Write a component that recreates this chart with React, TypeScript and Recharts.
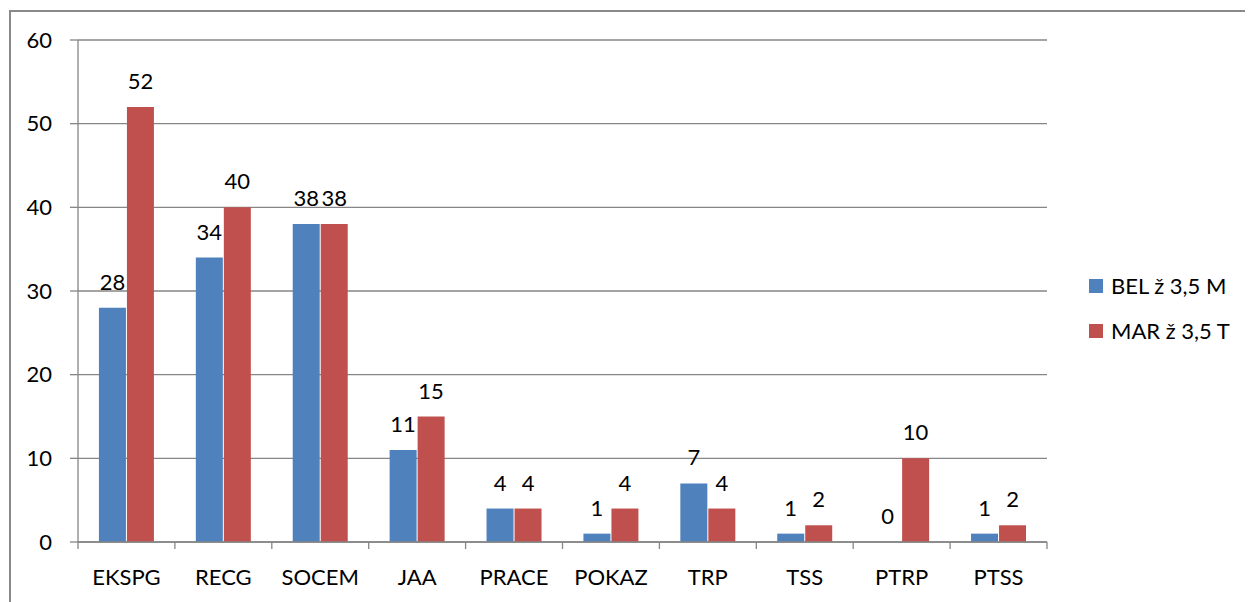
import React from "react";
import { BarChart, Bar, XAxis, YAxis, CartesianGrid, Legend, LabelList } from "recharts";

const categories = ["EKSPG", "RECG", "SOCEM", "JAA", "PRACE", "POKAZ", "TRP", "TSS", "PTRP", "PTSS"];
const belValues = [28, 34, 38, 11, 4, 1, 7, 1, 0, 1];
const marValues = [52, 40, 38, 15, 4, 4, 4, 2, 10, 2];
const yTicks = [0, 10, 20, 30, 40, 50, 60];

const data = categories.map((name, i) => ({ name, bel: belValues[i], mar: marValues[i] }));

const FONT = "Lato, 'Open Sans', sans-serif";
const GRID = "#868686";
const BLUE = "#4f81bd";
const RED = "#c0504d";

const W = 1245;
const H = 594;
const M = { top: 32, right: 206, bottom: 0, left: 0 };
const Y_W = 70;
const BAND = (W - M.right - M.left - Y_W) / categories.length;

const XTick = (props: any) => {
  const { x, y, payload, index } = props;
  const left = x - BAND / 2;
  return (
    <g>
      <line x1={left} x2={left} y1={y} y2={y + 7} stroke={GRID} strokeWidth={1.3} />
      {index === categories.length - 1 && (
        <line x1={x + BAND / 2} x2={x + BAND / 2} y1={y} y2={y + 7} stroke={GRID} strokeWidth={1.3} />
      )}
      <text x={x} y={y + 43} textAnchor="middle" fontSize={22} fontFamily={FONT} fill="#000">
        {payload.value}
      </text>
    </g>
  );
};

const LegendBox = () => (
  <div style={{ fontFamily: FONT, fontSize: 22, color: "#000" }}>
    {[
      { label: "BEL ž 3,5 M", color: BLUE },
      { label: "MAR ž 3,5 T", color: RED },
    ].map((it) => (
      <div key={it.label} style={{ display: "flex", alignItems: "center", height: 45 }}>
        <span style={{ width: 14, height: 14, background: it.color, display: "inline-block", marginRight: 8 }} />
        <span>{it.label}</span>
      </div>
    ))}
  </div>
);

export default function App() {
  return (
    <div style={{ position: "relative", width: W, height: H, overflow: "hidden" }}>
      <div
        style={{
          position: "absolute", left: 1, top: 2, width: W + 100, height: H + 100,
          border: "2px solid #898989", boxSizing: "border-box",
        }}
      />
      <BarChart width={W} height={H} data={data} margin={M} barCategoryGap="21.6%" barGap={1}>
        <CartesianGrid horizontal vertical={false} stroke={GRID} strokeWidth={1.3} />
        <XAxis
          dataKey="name"
          height={60}
          axisLine={{ stroke: GRID, strokeWidth: 1.3 }}
          tickLine={false}
          tickSize={0}
          tickMargin={0}
          interval={0}
          tick={<XTick />}
        />
        <YAxis
          width={Y_W}
          domain={[0, 60]}
          ticks={yTicks}
          interval={0}
          axisLine={{ stroke: GRID, strokeWidth: 1.3 }}
          tickLine={{ stroke: GRID, strokeWidth: 1.3 }}
          tickSize={8}
          tickMargin={18}
          tick={{ fontSize: 22, fontFamily: FONT, fill: "#000" }}
        />
        <Legend
          layout="horizontal"
          verticalAlign="middle"
          align="center"
          content={<LegendBox />}
          wrapperStyle={{ position: "absolute", left: 1081, top: 255, width: 160 }}
        />
        <Bar dataKey="bel" name="BEL ž 3,5 M" fill={BLUE} minPointSize={0.01} isAnimationActive={false}>
          <LabelList dataKey="bel" position="top" offset={18} fontSize={22} fontFamily={FONT} fill="#000" />
        </Bar>
        <Bar dataKey="mar" name="MAR ž 3,5 T" fill={RED} isAnimationActive={false}>
          <LabelList dataKey="mar" position="top" offset={18} fontSize={22} fontFamily={FONT} fill="#000" />
        </Bar>
      </BarChart>
    </div>
  );
}
